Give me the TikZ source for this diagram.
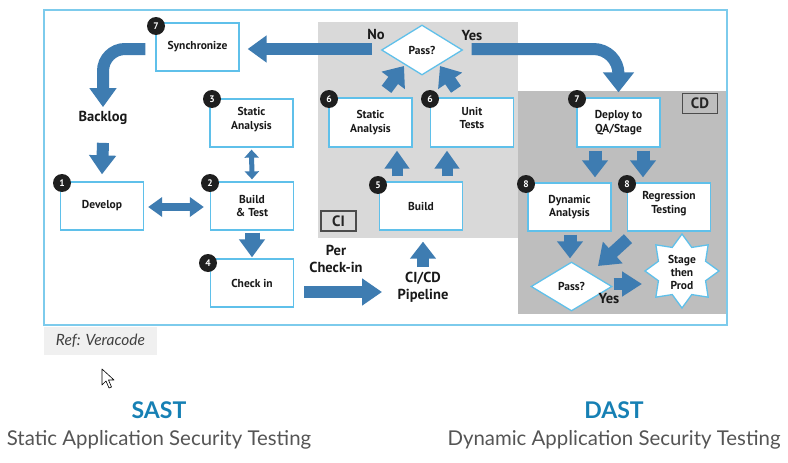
\documentclass[tikz,border=0pt]{standalone}
\usepackage{fontspec}
\setmainfont{PT Sans}
\newfontfamily\latofont{Lato}
\usetikzlibrary{arrows.meta,shapes.geometric,calc}

\definecolor{arrblue}{RGB}{62,124,177}
\definecolor{boxblue}{RGB}{95,192,234}
\definecolor{frameblue}{RGB}{125,203,236}
\definecolor{cigray}{RGB}{217,217,217}
\definecolor{cdgray}{RGB}{190,190,190}
\definecolor{sastblue}{RGB}{22,128,180}
\definecolor{subgray}{RGB}{85,85,85}

\tikzset{
  box/.style={draw=boxblue, line width=1.3pt, fill=white, minimum width=83pt, minimum height=48pt,
    inner sep=0pt, align=center, font=\bfseries\fontsize{11.5}{13.5}\selectfont, text=black!90},
  badge/.style={circle, fill=black!88, minimum size=18pt, inner sep=0pt, text=white,
    font=\bfseries\fontsize{9.5}{9.5}\selectfont},
  dia/.style={diamond, draw=boxblue, line width=1.3pt, fill=white, minimum width=81pt,
    minimum height=50pt, inner sep=0pt, font=\bfseries\fontsize{11.5}{12}\selectfont, text=black!90},
  starshape/.style={star, star points=8, star point ratio=1.45, draw=boxblue, line width=1.3pt,
    fill=white, minimum size=74pt, inner sep=0pt},
  big/.style={font=\bfseries\fontsize{14.5}{17}\selectfont, text=black!90, align=center, inner sep=0pt},
  tagbox/.style={draw=black!70, line width=1.3pt, minimum width=35pt, minimum height=20pt,
    inner sep=0pt, font=\bfseries\fontsize{15}{15}\selectfont, text=black!85},
  fat/.style={draw=arrblue, line width=12pt, -{Triangle[length=19pt,width=26pt]}},
  dblsmall/.style={draw=arrblue, line width=5pt, {Triangle[length=8pt,width=14pt]}-{Triangle[length=8pt,width=14pt]}},
  dblmid/.style={draw=arrblue, line width=8pt, {Triangle[length=14pt,width=19pt]}-{Triangle[length=14pt,width=19pt]}},
}

\begin{document}
\begin{tikzpicture}[x=1pt,y=-1pt]
\useasboundingbox (0,0) rectangle (788,463);
\fill[white] (0,0) rectangle (788,463);

% frame and regions
\fill[white] (44,10) rectangle (727,325);
\fill[cigray] (318,22) rectangle (518,238);
\fill[cdgray] (518,91) rectangle (726,314);
\draw[frameblue, line width=1.5pt] (44,10) rectangle (727,325);

\node[tagbox] (citag) at (338.5,221) {CI};
\node[tagbox] (cdtag) at (700,103.5) {CD};

% boxes
\node[box] (sync) at (197.5,47) {Synchronize};
\node[box] (sa3) at (251.5,123) {Static\\Analysis\\[-4pt]};
\node[box] (dev) at (102,206) {Develop};
\node[box] (bt) at (252,206) {Build\\\& Test};
\node[box] (chk) at (252,283) {\\[-4pt]Check in};
\node[box] (build5) at (421,206) {Build};
\node[box, minimum height=49pt] (sa6) at (370.5,122.5) {Static\\Analysis};
\node[box, minimum height=49pt] (ut) at (472,122.5) {Unit\\Tests\\[-4pt]};
\node[box, minimum height=49pt] (deploy) at (618.5,122.5) {Deploy to\\QA/Stage};
\node[box] (dyn) at (569.5,207) {Dynamic\\Analysis};
\node[box] (reg) at (669,207) {Regression\\Testing\\[-4pt]};
\node[dia] (pass1) at (422,50) {Pass?};
\node[dia, minimum height=49pt] (pass2) at (571.5,286.5) {Pass?};
\node[starshape] (star) at (682,271) {};
\node[font=\bfseries\fontsize{11.5}{13}\selectfont, text=black!90, align=center] (startext) at (682,272) {Stage\\then\\Prod};

% badges
\node[badge] (b7a) at (156,26) {7};
\node[badge] (b3) at (212,99) {3};
\node[badge] (b1) at (62,183) {1};
\node[badge] (b2) at (210,183) {2};
\node[badge] (b4) at (208,263) {4};
\node[badge] (b5) at (378,185) {5};
\node[badge] (b6a) at (329,99) {6};
\node[badge] (b6b) at (430,99) {6};
\node[badge] (b7b) at (577,99) {7};
\node[badge] (b8a) at (526,184) {8};
\node[badge] (b8b) at (627,184) {8};

% free labels
\node[big] (backlog) at (103,118) {Backlog};
\node[big] (perlbl) at (336,259) {Per\\Check-in};
\node[big] (pipe) at (423,287) {CI/CD\\Pipeline};
\node[big] (nolbl) at (376,34) {No};
\node[big] (yeslbl) at (472,36) {Yes};
\node[big] (yes2lbl) at (609,299) {Yes};

% connectors
\draw[fat] ([shift={(-9,-1)}]pass1.west) -- ([shift={(8,2)}]sync.east);
\draw[fat, rounded corners=22pt] ([shift={(-10,2)}]sync.west) -| ([shift={(0,-4)}]backlog.north);
\draw[fat] ([shift={(0,18)}]backlog.south) -- ([shift={(0,-7)}]dev.north);
\draw[dblsmall] ([shift={(0,2)}]sa3.south) -- ([shift={(0,-2)}]bt.north);
\draw[dblmid] ([shift={(4,1)}]dev.east) -- ([shift={(-6,1)}]bt.west);
\draw[fat, line width=15pt, -{Triangle[length=18pt,width=25pt]}] ([shift={(0,2)}]bt.south) -- ([shift={(0,-1)}]chk.north);
\draw[fat, -{Triangle[length=20pt,width=26pt]}] ([shift={(10,9)}]chk.east) -- ([shift={(-41,5)}]pipe.center);
\draw[fat, -{Triangle[length=17pt,width=25pt]}] ([shift={(0,-20)}]pipe.center) -- ([shift={(2,11)}]build5.south);
\draw[fat, line width=11pt, -{Triangle[length=18pt,width=24pt]}] ([shift={(-24,-5)}]build5.north) -- ([shift={(26.5,3)}]sa6.south);
\draw[fat, line width=11pt, -{Triangle[length=18pt,width=24pt]}] ([shift={(26,-5)}]build5.north) -- ([shift={(-25,3)}]ut.south);
\draw[fat, -{Triangle[length=18pt,width=28pt]}] ([shift={(16,-8)}]sa6.north) -- ([shift={(-18,16)}]pass1.center);
\draw[fat, -{Triangle[length=18pt,width=28pt]}] ([shift={(-16,-8)}]ut.north) -- ([shift={(18,16)}]pass1.center);
\draw[fat, rounded corners=25pt, -{Triangle[length=20pt,width=30pt]}] ([shift={(8.5,-1)}]pass1.east) -| ([shift={(0,-5)}]deploy.north);
\draw[fat, line width=13pt, -{Triangle[length=17pt,width=25pt]}] ([shift={(-23.5,3)}]deploy.south) -- ([shift={(25.5,-5)}]dyn.north);
\draw[fat, line width=13pt, -{Triangle[length=17pt,width=25pt]}] ([shift={(24.5,3)}]deploy.south) -- ([shift={(-26,-5)}]reg.north);
\draw[fat, line width=13pt, -{Triangle[length=17pt,width=25pt]}] ([shift={(0.5,3)}]dyn.south) -- ([shift={(-1.5,-3)}]pass2.north);
\draw[fat, -{Triangle[length=20pt,width=28pt]}] ([shift={(-41,7)}]reg.south) -- ([shift={(26.5,-20.5)}]pass2.center);
\draw[fat, -{Triangle[length=20pt,width=24pt]}] ([shift={(1,-2.5)}]pass2.east) -- ([shift={(-40,13)}]star.center);

% reference tag and cursor
\node[fill=black!6, minimum width=113pt, minimum height=28pt, inner sep=0pt,
  font=\latofont\itshape\fontsize{15.5}{17}\selectfont, text=black!75] (ref) at (100.5,340.5) {Ref: Veracode};
\draw[fill=white, line width=0.6pt, line join=round] (102,369) -- (102,385) -- (106,381) -- (109,388) -- (111.5,387) -- (108.5,380) -- (114,380) -- cycle;

% bottom titles
\node[font=\latofont\bfseries\fontsize{23}{25}\selectfont, text=sastblue] (sast) at (159,410) {SAST};
\node[font=\latofont\fontsize{20.4}{23}\selectfont, text=subgray] (sastsub) at (159,440) {Static Application Security Testing};
\node[font=\latofont\bfseries\fontsize{23}{25}\selectfont, text=sastblue] (dast) at (614,410) {DAST};
\node[font=\latofont\fontsize{20.4}{23}\selectfont, text=subgray] (dastsub) at (614,440) {Dynamic Application Security Testing};
\end{tikzpicture}
\end{document}
